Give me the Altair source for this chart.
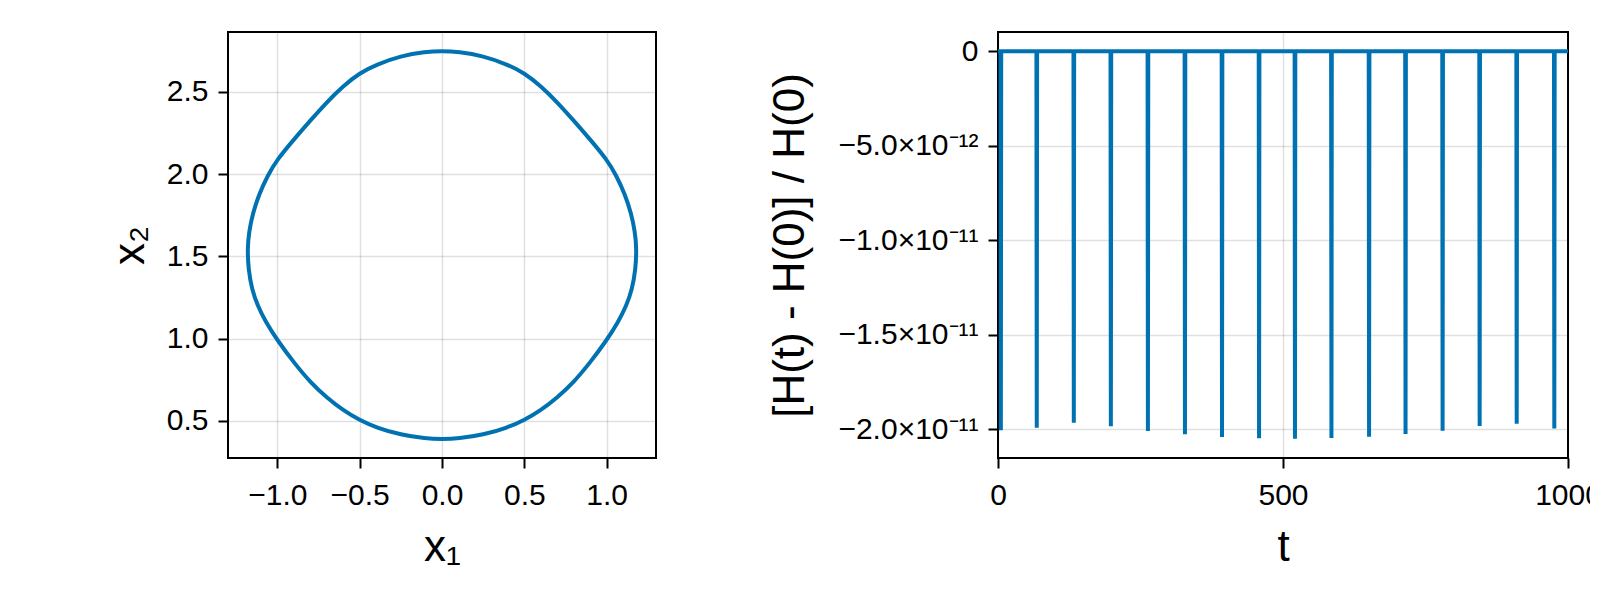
import altair as alt
import pandas as pd

# ---- Left panel: closed orbit in the (x1, x2) plane (clockwise from top)
orbit_x1 = [0.00, 0.10, 0.25, 0.40, 0.50, 0.60, 0.70, 0.80, 0.90, 1.00, 1.06, 1.11, 1.15,
            1.172, 1.182, 1.176, 1.155, 1.12, 1.07, 1.00, 0.90, 0.80, 0.70, 0.60, 0.50,
            0.40, 0.25, 0.10,
            0.00, -0.10, -0.25, -0.40, -0.50, -0.60, -0.70, -0.80, -0.90, -1.00, -1.07,
            -1.12, -1.155, -1.176, -1.182, -1.172, -1.15, -1.11, -1.06, -1.00, -0.90,
            -0.80, -0.70, -0.60, -0.50, -0.40, -0.25, -0.10]
orbit_x2 = [2.748, 2.743, 2.718, 2.665, 2.614, 2.535, 2.437, 2.325, 2.21, 2.09, 1.99, 1.88, 1.76,
            1.65, 1.55, 1.42, 1.30, 1.20, 1.10, 0.99, 0.855, 0.735, 0.642, 0.565, 0.505,
            0.46, 0.415, 0.393,
            0.390, 0.393, 0.415, 0.46, 0.505, 0.565, 0.642, 0.735, 0.855, 0.99, 1.10,
            1.20, 1.30, 1.42, 1.55, 1.65, 1.76, 1.88, 1.99, 2.09, 2.21,
            2.325, 2.437, 2.535, 2.614, 2.665, 2.718, 2.743]

# ---- Right panel: relative energy error, zero except short periodic dips
spike_t = [5, 68, 133, 198, 263, 328, 393, 458, 521, 585, 651, 715, 780, 845, 910, 976]
spike_dH_e11 = [-2.006, -1.993, -1.966, -1.985, -2.009, -2.027, -2.041, -2.048,
                -2.050, -2.047, -2.040, -2.026, -2.008, -1.983, -1.971, -1.996]
t_start, t_end = 0.0, 1000.0

x_ticks_left = [-1.0, -0.5, 0.0, 0.5, 1.0]
y_ticks_left = [0.5, 1.0, 1.5, 2.0, 2.5]
x_ticks_right = [0, 500, 1000]
y_ticks_right = [0.0, -5e-12, -1e-11, -1.5e-11, -2e-11]

BLUE = "#0072B2"
FONT = "Liberation Sans"
LINE_W = 4

orbit_df = pd.DataFrame({"i": list(range(len(orbit_x1))), "x1": orbit_x1, "x2": orbit_x2})

t_vals, h_vals = [t_start], [0.0]
for t, v in zip(spike_t, spike_dH_e11):
    t_vals += [t - 0.6, t, t + 0.6]
    h_vals += [0.0, v * 1e-11, 0.0]
t_vals.append(t_end)
h_vals.append(0.0)
energy_df = pd.DataFrame({"t": t_vals, "dH": h_vals})

left = alt.Chart(orbit_df).mark_line(
    interpolate="basis-closed", color=BLUE, strokeWidth=LINE_W, clip=True
).encode(
    x=alt.X("x1:Q",
            scale=alt.Scale(domain=[-1.3, 1.3], nice=False, zero=False),
            axis=alt.Axis(values=x_ticks_left, format=".1f", title="x₁",
                          titleX=214, titleY=67)),
    y=alt.Y("x2:Q",
            scale=alt.Scale(domain=[0.275, 2.863], nice=False, zero=False),
            axis=alt.Axis(values=y_ticks_left, format=".1f", title="x₂",
                          titleX=-76, titleY=213)),
    order=alt.Order("i:Q"),
).properties(width=428, height=426)

label_expr = (
    "datum.value == 0 ? '0' : "
    "(datum.value > -7.5e-12 ? '−' + format(-datum.value * 1e12, '.1f') + '×10⁻¹²' "
    ": '−' + format(-datum.value * 1e11, '.1f') + '×10⁻¹¹')"
)

right = alt.Chart(energy_df).mark_line(
    color=BLUE, strokeWidth=LINE_W, strokeJoin="bevel", clip=True
).encode(
    x=alt.X("t:Q",
            scale=alt.Scale(domain=[0, 1000], nice=False, zero=False),
            axis=alt.Axis(values=x_ticks_right, format="d", title="t",
                          titleX=285, titleY=67)),
    y=alt.Y("dH:Q",
            scale=alt.Scale(domain=[-2.1525e-11, 1.025e-12], nice=False, zero=False),
            axis=alt.Axis(values=y_ticks_right, labelExpr=label_expr,
                          title="[H(t) - H(0)] / H(0)", titleX=-186, titleY=213)),
    order=alt.Order("t:Q"),
).properties(width=570, height=426)

chart = alt.hconcat(left, right, spacing=109).properties(
    padding={"left": 99, "top": 23, "right": -13, "bottom": 0},
    background="white",
).configure_axis(
    labelFont=FONT, labelFontSize=30, labelColor="black", labelPadding=10,
    labelFlush=False, labelOverlap=False,
    titleFont=FONT, titleFontSize=44, titleFontWeight="normal", titleColor="black",
    tickColor="black", tickWidth=2, tickSize=10,
    domain=False,
    gridColor="black", gridOpacity=0.12, gridWidth=1.5,
).configure_axisX(labelPadding=12).configure_view(
    stroke="black", strokeWidth=2
)

chart.save("out.html", embed_options={"renderer": "svg", "actions": False})
